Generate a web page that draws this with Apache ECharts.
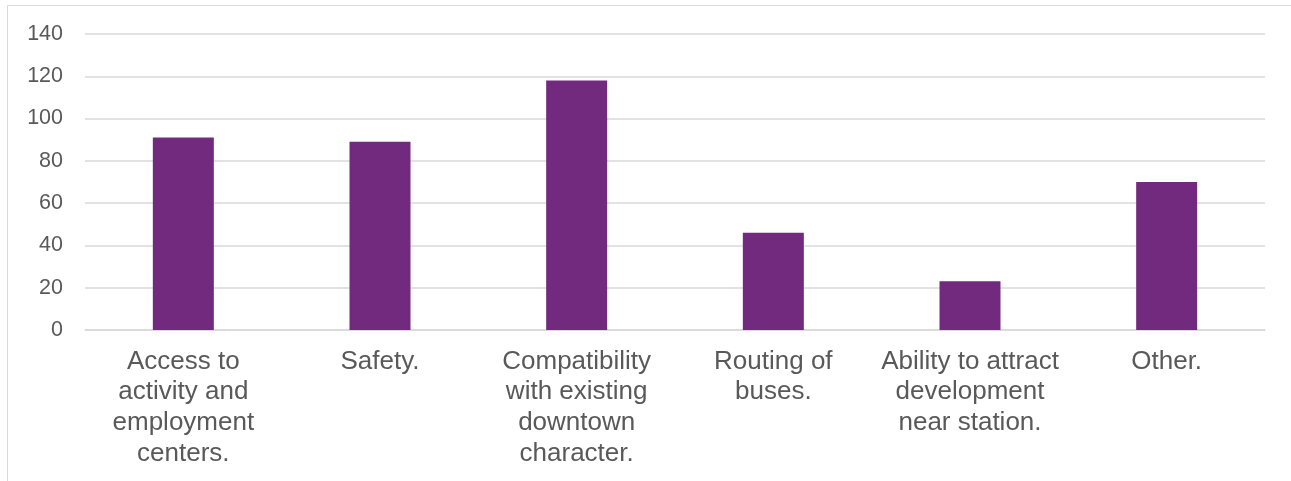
<!DOCTYPE html>
<html>
<head>
<meta charset="utf-8">
<script src="https://cdn.jsdelivr.net/npm/echarts@6/dist/echarts.min.js"></script>
<style>
html,body{margin:0;padding:0;background:#fff;}
#chart{width:1291px;height:481px;}
</style>
</head>
<body>
<div id="chart"></div>
<script>
const categories = [
  "Access to\nactivity and\nemployment\ncenters.",
  "Safety.",
  "Compatibility\nwith existing\ndowntown\ncharacter.",
  "Routing of\nbuses.",
  "Ability to attract\ndevelopment\nnear station.",
  "Other."
];
const values = [91, 89, 118, 46, 23, 70];
const yTicks = [0, 20, 40, 60, 80, 100, 120, 140];

const chart = echarts.init(document.getElementById('chart'), null, {renderer: 'canvas'});
chart.setOption({
  animation: false,
  backgroundColor: '#ffffff',
  graphic: [{
    type: 'rect',
    shape: {x: 7.5, y: 5.5, width: 1400, height: 600},
    style: {fill: 'none', stroke: '#d9d9d9', lineWidth: 1},
    silent: true,
    z: -1
  }],
  grid: {left: 85, right: 26, top: 34, bottom: 151, containLabel: false},
  xAxis: {
    type: 'category',
    data: categories,
    axisLine: {show: true, lineStyle: {color: '#d9d9d9', width: 1.5}},
    axisTick: {show: false},
    axisLabel: {
      interval: 0,
      color: '#595959',
      fontFamily: 'Liberation Sans, Arial, sans-serif',
      fontSize: 26,
      lineHeight: 30.7,
      margin: 16
    }
  },
  yAxis: {
    type: 'value',
    min: yTicks[0],
    max: yTicks[yTicks.length - 1],
    interval: 20,
    axisLine: {show: false},
    axisTick: {show: false},
    splitLine: {lineStyle: {color: '#d9d9d9', width: 1.5}},
    axisLabel: {
      color: '#595959',
      fontFamily: 'Liberation Sans, Arial, sans-serif',
      fontSize: 21.5,
      margin: 22
    }
  },
  series: [{
    type: 'bar',
    data: values,
    barWidth: 61,
    itemStyle: {color: '#722a7e'}
  }]
});
</script>
</body>
</html>
